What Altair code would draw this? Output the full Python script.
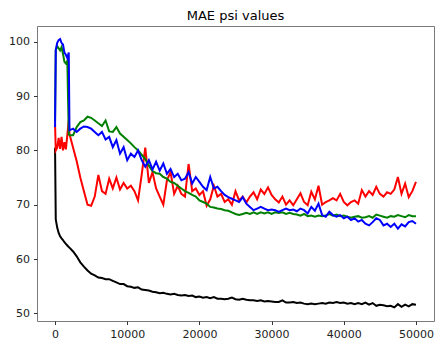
import altair as alt
import pandas as pd

early_steps = [0, 100, 300, 500, 700, 900, 1100, 1300, 1500, 1700, 1900]
main_steps = list(range(2000, 50001, 500))
steps = early_steps + main_steps

black_vals = [80.5, 67.3, 65.8, 64.8, 64.2, 63.8, 63.5, 63.1, 62.8, 62.5, 62.2,
    62.1, 61.4, 60.5, 59.4, 58.6, 57.9, 57.3, 57.0, 56.6, 56.5,
    56.3, 56.3, 56.0, 55.7, 55.4, 55.4, 55.0, 54.9, 54.7, 54.8,
    54.4, 54.3, 54.2, 54.0, 53.9, 53.7, 53.8, 53.6, 53.5, 53.6,
    53.4, 53.3, 53.4, 53.2, 53.3, 53.0, 53.1, 52.9, 53.0, 52.8,
    53.0, 52.7, 52.7, 52.6, 52.7, 52.9, 52.6, 52.5, 52.7, 52.5,
    52.4, 52.4, 52.3, 52.4, 52.2, 52.3, 52.2, 52.1, 52.1, 52.4,
    52.0, 52.0, 52.1, 51.9, 52.0, 51.8, 51.7, 51.8, 51.7, 51.8,
    51.9, 51.8, 52.0, 51.9, 52.1, 51.9, 52.0, 51.8, 51.9, 51.7,
    51.9, 51.7, 52.0, 51.6, 51.9, 51.4, 51.6, 51.5, 51.3, 51.4,
    51.1, 51.7, 51.2, 51.6, 51.3, 51.7, 51.6]

red_vals = [84.8, 80.0, 80.5, 82.3, 80.3, 82.5, 80.0, 81.5, 80.2, 82.8, 85.5,
    83.0, 80.5, 78.0, 75.0, 72.5, 70.0, 69.8, 71.5, 75.5, 72.5,
    72.0, 74.8, 73.0, 75.0, 72.8, 74.0, 73.0, 73.5, 72.5, 70.8,
    75.5, 80.5, 74.0, 76.0, 73.0, 71.5, 70.0, 74.5, 76.0, 72.0,
    73.5, 72.0, 71.5, 77.5, 72.5, 73.0, 71.8, 72.5, 69.8, 71.0,
    73.5, 71.5, 72.0, 70.5, 71.0, 70.0, 72.5, 70.8, 71.5, 70.4,
    71.5, 72.3, 71.0, 72.8, 72.0, 73.2, 71.8, 71.0, 70.4, 71.5,
    70.0, 70.8, 69.9, 71.0, 72.1, 70.5, 69.9, 72.4, 71.0, 73.5,
    70.0, 70.5, 70.8, 71.2, 70.8, 72.0, 70.5, 69.9, 70.5, 70.8,
    70.2, 72.7, 71.5, 72.5, 71.8, 73.3, 72.0, 71.5, 72.3, 72.0,
    72.8, 75.1, 72.0, 73.9, 71.4, 72.5, 74.2]

green_vals = [85.3, 98.5, 99.2, 98.8, 98.4, 99.0, 97.8, 96.3, 96.0, 96.5, 83.0,
    82.8, 82.8, 84.3, 85.2, 85.5, 86.2, 86.0, 85.5, 85.0, 84.5,
    85.5, 83.5, 83.4, 84.3, 83.1, 82.5, 81.9, 81.3, 80.6, 80.0,
    79.2, 78.4, 77.2, 76.2, 75.8, 75.7, 75.1, 74.8, 74.2, 74.0,
    73.5, 73.0, 72.5, 72.2, 71.8, 71.5, 70.8, 70.5, 70.2, 69.6,
    69.5, 69.3, 69.2, 69.0, 68.9, 68.6, 68.3, 68.1, 68.3, 68.5,
    68.3, 68.6, 68.3, 68.6, 68.4, 68.6, 68.3, 68.6, 68.5, 68.6,
    68.3, 68.5, 68.3, 68.2, 68.0, 68.3, 67.9, 68.0, 67.8, 68.0,
    67.9, 68.0, 68.3, 68.0, 68.2, 67.9, 68.0, 67.8, 67.6, 67.8,
    67.9, 67.6, 67.7, 67.9, 67.6, 68.2, 68.0, 67.8, 67.6, 67.9,
    67.8, 68.1, 67.9, 67.7, 68.1, 67.9, 67.9]

blue_vals = [84.3, 98.5, 99.8, 100.3, 100.5, 99.8, 99.5, 98.0, 97.6, 97.0, 98.0,
    83.7, 84.0, 83.4, 84.0, 84.4, 84.3, 84.0, 83.4, 82.8, 83.4,
    82.0, 82.5, 80.6, 81.9, 79.4, 80.6, 78.2, 79.4, 78.8, 80.0,
    78.2, 77.0, 78.2, 76.5, 77.9, 76.3, 77.6, 75.7, 76.6, 75.1,
    75.7, 74.5, 74.8, 76.0, 73.9, 75.1, 74.2, 73.3, 72.7, 75.1,
    73.0, 73.3, 72.5, 71.8, 71.4, 71.1, 70.8, 70.5, 71.4, 70.2,
    69.6, 69.0, 69.3, 69.6, 69.3, 69.0, 69.1, 69.0, 68.7, 69.0,
    69.3, 69.0, 69.1, 68.8, 69.3, 69.0, 68.4, 69.6, 68.9, 70.2,
    68.1, 67.8, 68.7, 68.1, 67.8, 68.1, 67.5, 67.8, 67.2, 67.5,
    66.9, 67.2, 66.5, 66.2, 66.8, 67.5, 67.2, 66.2, 66.5, 65.9,
    66.5, 65.6, 66.4, 66.0, 66.8, 67.0, 66.5]

series = [("black", black_vals, "#000000"), ("red", red_vals, "#ff0000"),
          ("green", green_vals, "#008000"), ("blue", blue_vals, "#0000ff")]

x_scale = alt.Scale(domain=[-2500, 52500], nice=False, zero=False)
y_scale = alt.Scale(domain=[48.6, 102.9], nice=False, zero=False)
x_axis = alt.Axis(values=[0, 10000, 20000, 30000, 40000, 50000], format="d", title=None)
y_axis = alt.Axis(values=[50, 60, 70, 80, 90, 100], format="d", title=None)

layers = []
for name, vals, col in series:
    df = pd.DataFrame({"step": steps, "mae": vals})
    layers.append(
        alt.Chart(df).mark_line(color=col, strokeWidth=2, interpolate="linear",
                                strokeJoin="miter").encode(
            x=alt.X("step:Q", scale=x_scale, axis=x_axis),
            y=alt.Y("mae:Q", scale=y_scale, axis=y_axis),
        )
    )

chart = alt.layer(*layers).properties(
    width=397, height=295,
    title=alt.TitleParams("MAE psi values", fontSize=13, font="DejaVu Sans",
                          fontWeight="normal", color="#000000", offset=3),
    autosize=alt.AutoSizeParams(type="none"),
    padding={"left": 29, "top": 18, "right": 2, "bottom": 19},
).configure_view(
    stroke="#7a7a7a", strokeWidth=1
).configure_axis(
    grid=False, domain=False, ticks=True, tickSize=3.5, tickColor="#333333",
    labelFont="DejaVu Sans", labelFontSize=11, labelColor="#222222", labelPadding=4
)

chart.save("out.html", embed_options={"renderer": "svg", "actions": False})
